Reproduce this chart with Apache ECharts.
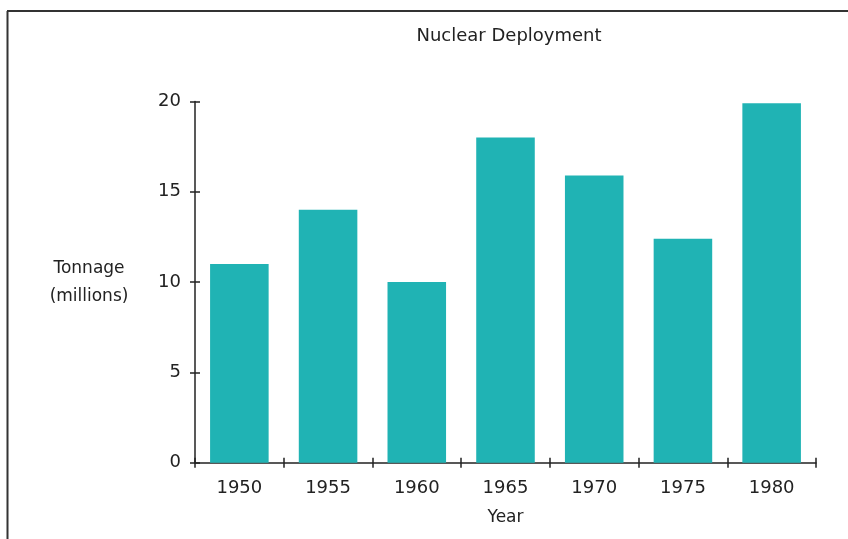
<!DOCTYPE html>
<html>
<head>
<meta charset="utf-8">
<script src="https://cdn.jsdelivr.net/npm/echarts@6/dist/echarts.min.js"></script>
<style>
  html, body { margin: 0; padding: 0; background: #ffffff; }
  #chart { width: 848px; height: 539px; }
</style>
</head>
<body>
<div id="chart"></div>
<script>
// Year categories and tonnage values (millions)
const years = ['1950', '1955', '1960', '1965', '1970', '1975', '1980'];
const tonnage = [11, 14, 10, 18, 15.9, 12.4, 19.9];
const yTicks = { min: 0, max: 20, interval: 5 };

const chartTitle = 'Nuclear Deployment';
const xName = 'Year';
const yName = 'Tonnage\n(millions)';

const FONT = 'DejaVu Sans';
const INK = '#222222';
const BAR = '#20b3b4';

const chart = echarts.init(document.getElementById('chart'), null, { renderer: 'canvas' });

const grid = { left: 195, right: 32, top: 101.5, bottom: 76.3 };

chart.setOption({
  animation: false,
  backgroundColor: '#ffffff',
  title: {
    text: chartTitle,
    left: 504,
    top: 22,
    textAlign: 'center',
    textStyle: { fontFamily: FONT, fontSize: 18, fontWeight: 'normal', color: INK }
  },
  grid: grid,
  xAxis: [{
    type: 'category',
    data: years,
    name: xName,
    nameLocation: 'middle',
    nameGap: 55,
    nameTextStyle: { fontFamily: FONT, fontSize: 17, color: INK, verticalAlign: 'middle' },
    axisLine: { lineStyle: { color: INK, width: 1.5 } },
    axisTick: { show: true, length: 5, lineStyle: { color: INK, width: 1.5 } },
    axisLabel: { fontFamily: FONT, fontSize: 18, color: INK, margin: 17 },
    splitLine: { show: false }
  }, {
    // inner half of the crossing tick marks
    type: 'category',
    data: years,
    position: 'bottom',
    axisLine: { show: false },
    axisTick: { show: true, inside: true, length: 5, lineStyle: { color: INK, width: 1.5 } },
    axisLabel: { show: false },
    splitLine: { show: false }
  }],
  yAxis: [{
    type: 'value',
    min: yTicks.min,
    max: yTicks.max,
    interval: yTicks.interval,
    name: yName,
    nameLocation: 'middle',
    nameRotate: 0,
    nameGap: 106,
    nameTextStyle: { fontFamily: FONT, fontSize: 17, color: INK, align: 'center', verticalAlign: 'middle', lineHeight: 28 },
    axisLine: { show: true, lineStyle: { color: INK, width: 1.5 } },
    axisTick: { show: true, length: 5, lineStyle: { color: INK, width: 1.5 } },
    axisLabel: { fontFamily: FONT, fontSize: 18, color: INK, margin: 14 },
    splitLine: { show: false }
  }, {
    type: 'value',
    min: yTicks.min,
    max: yTicks.max,
    interval: yTicks.interval,
    position: 'left',
    axisLine: { show: false },
    axisTick: { show: true, inside: true, length: 5, lineStyle: { color: INK, width: 1.5 } },
    axisLabel: { show: false },
    splitLine: { show: false }
  }],
  series: [{
    type: 'bar',
    data: tonnage,
    barWidth: '66%',
    itemStyle: { color: BAR },
    xAxisIndex: 0,
    yAxisIndex: 0
  }],
  graphic: [
    // page frame: top and left edges
    { type: 'line', shape: { x1: 7, y1: 11, x2: 848, y2: 11 }, style: { stroke: '#333', lineWidth: 2 }, silent: true },
    { type: 'line', shape: { x1: 7.5, y1: 11, x2: 7.5, y2: 539 }, style: { stroke: '#333', lineWidth: 2 }, silent: true }
  ]
});
</script>
</body>
</html>
